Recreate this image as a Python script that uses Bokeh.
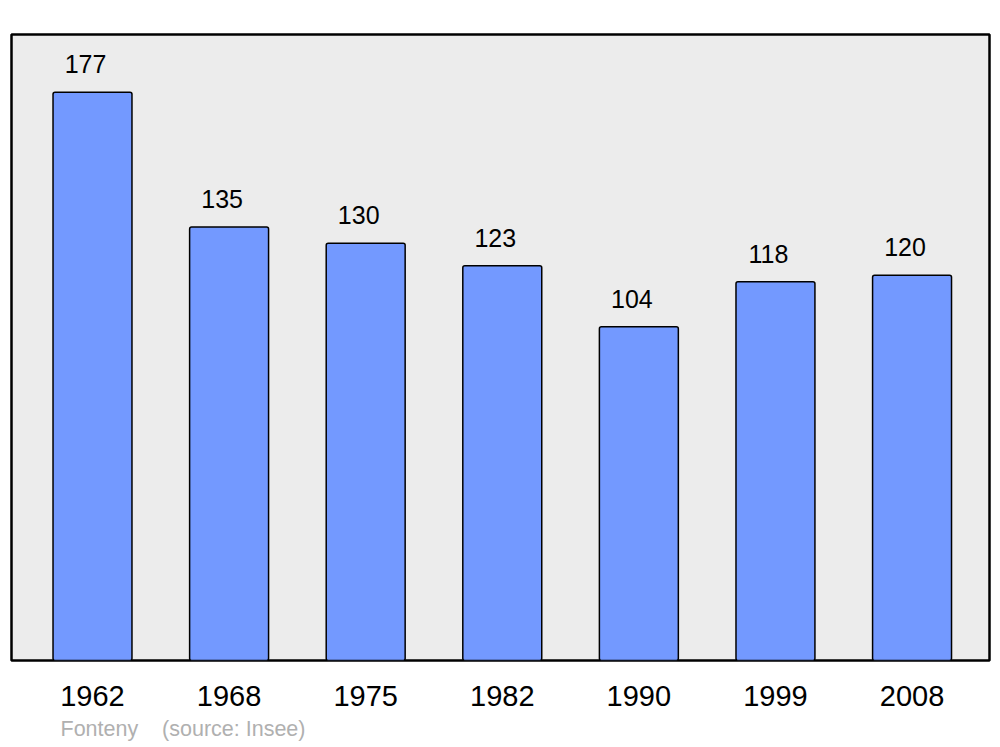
from bokeh.plotting import figure
from bokeh.models import ColumnDataSource, FixedTicker, Range1d, Title
from bokeh.core.properties import value
from bokeh.embed import file_html
from bokeh.resources import INLINE

years = ["1962", "1968", "1975", "1982", "1990", "1999", "2008"]
population = [177, 135, 130, 123, 104, 118, 120]
footer_name = "Fonteny"
footer_source = "(source: Insee)"

idx = list(range(len(years)))
src = ColumnDataSource(dict(x=idx, top=population, lbl=[str(v) for v in population]))

p = figure(width=1000, height=747, output_backend="svg", toolbar_location=None,
           x_range=Range1d(-0.593, 6.567), y_range=Range1d(0, 195),
           min_border_left=11, min_border_right=11, min_border_top=34, min_border_bottom=87)
p.background_fill_color = "#ececec"
p.border_fill_color = "white"
p.outline_line_color = "black"
p.outline_line_width = 2.5
p.grid.visible = False
p.yaxis.visible = False

p.vbar(x="x", top="top", bottom=0, width=0.578, source=src,
       fill_color="#7399ff", line_color="black", line_width=1.5, border_radius=2)

p.text(x="x", y="top", text="lbl", source=src, y_offset=-28, x_offset=-7,
       text_align="center", text_baseline="alphabetic",
       text_font=value("Liberation Sans"), text_font_size="25px", text_color="black")

xa = p.xaxis[0]
xa.ticker = FixedTicker(ticks=idx)
xa.major_label_overrides = {i: y for i, y in zip(idx, years)}
xa.axis_line_color = None
xa.major_tick_line_color = None
xa.minor_tick_line_color = None
xa.major_label_standoff = 19
xa.major_label_text_font = "Liberation Sans"
xa.major_label_text_font_size = "29px"
xa.major_label_text_color = "black"

footer = footer_name + "\u00a0\u00a0\u00a0\u00a0" + footer_source
p.add_layout(Title(text=footer, align="left", offset=49, standoff=12,
                   text_font="Liberation Sans", text_font_size="21.5px",
                   text_font_style="normal", text_color="#b0b0b0"), "below")

open("out.html", "w").write(file_html(p, INLINE))
